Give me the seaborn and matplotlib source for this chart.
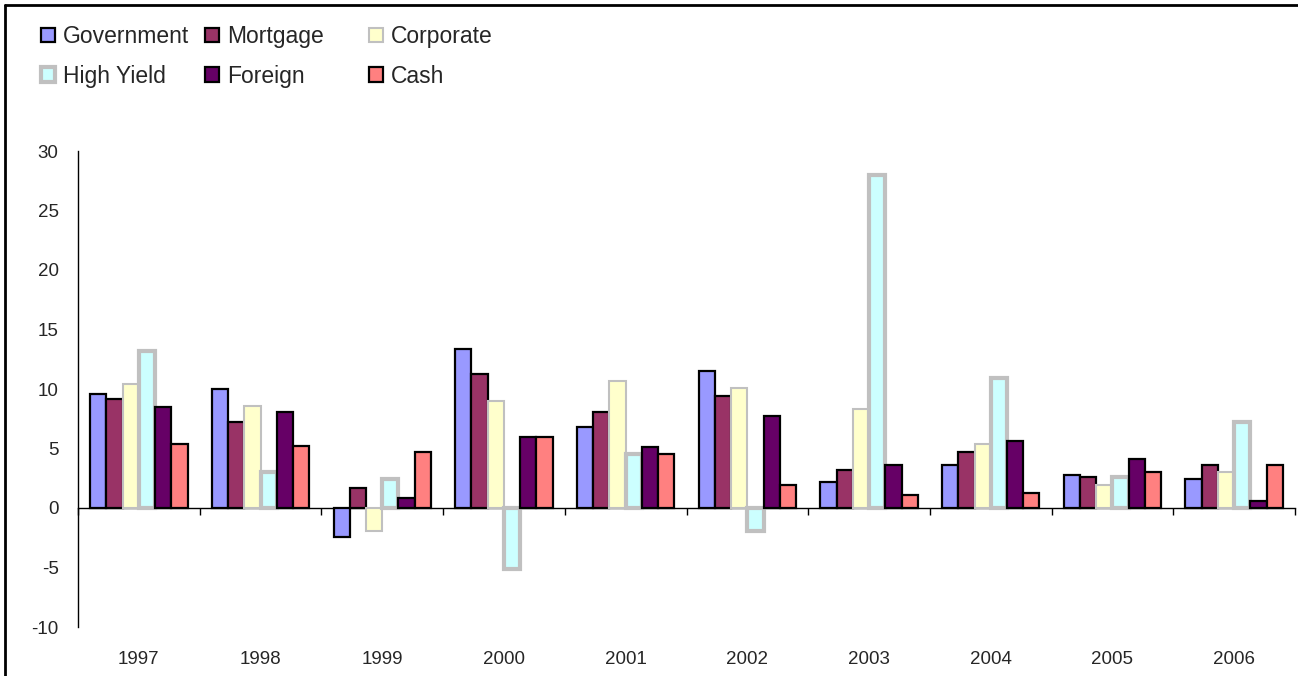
import pandas as pd
import seaborn as sns
import matplotlib.pyplot as plt
from matplotlib.patches import Patch
from matplotlib.lines import Line2D

years = ['1997', '1998', '1999', '2000', '2001', '2002', '2003', '2004', '2005', '2006']
assets = ['Government', 'Mortgage', 'Corporate', 'High Yield', 'Foreign', 'Cash']

government = [9.6, 10.0, -2.4, 13.4, 6.8, 11.5, 2.2, 3.6, 2.8, 2.4]
mortgage = [9.2, 7.2, 1.7, 11.3, 8.1, 9.4, 3.2, 4.7, 2.6, 3.6]
corporate = [10.4, 8.6, -1.9, 9.0, 10.7, 10.1, 8.3, 5.4, 1.9, 3.0]
high_yield = [13.2, 3.0, 2.4, -5.1, 4.5, -1.9, 28.0, 10.9, 2.6, 7.2]
foreign = [8.5, 8.1, 0.8, 6.0, 5.1, 7.7, 3.6, 5.6, 4.1, 0.6]
cash = [5.4, 5.2, 4.7, 6.0, 4.5, 1.9, 1.1, 1.3, 3.0, 3.6]

colors = ['#9999FF', '#993366', '#FFFFCC', '#CCFFFF', '#660066', '#FF8080']
edges = ['black', 'black', '#C0C0C0', '#C0C0C0', 'black', 'black']
widths = [1.6, 1.6, 1.5, 3.0, 1.6, 1.6]

values = [government, mortgage, corporate, high_yield, foreign, cash]
rows = []
for name, vals in zip(assets, values):
    for y, v in zip(years, vals):
        rows.append({'Year': y, 'Asset': name, 'Return': v})
df = pd.DataFrame(rows)

sns.set_style('white')
plt.rcParams['font.family'] = ['Liberation Sans', 'DejaVu Sans']
plt.rcParams['axes.unicode_minus'] = False

W, H = 1298, 676
fig = plt.figure(figsize=(W / 100, H / 100), dpi=100)
ax = fig.add_axes([78 / W, (H - 627) / H, (1295 - 78) / W, (627 - 151) / H])

sns.barplot(data=df, x='Year', y='Return', hue='Asset', order=years, hue_order=assets,
            palette=colors, saturation=1, errorbar=None, width=0.8, legend=False, ax=ax)

for cont, ec, lw in zip(ax.containers, edges, widths):
    for bar in cont:
        bar.set_edgecolor(ec)
        bar.set_linewidth(lw)

ax.set_xlim(-0.5, len(years) - 0.5)
ax.set_ylim(-10, 30)
ax.set_yticks(range(-10, 31, 5))
ax.set_xlabel('')
ax.set_ylabel('')
for s in ['top', 'right', 'bottom']:
    ax.spines[s].set_visible(False)
ax.spines['left'].set_color('black')
ax.spines['left'].set_linewidth(1)
ax.tick_params(axis='y', direction='out', length=5, width=1, color='black', labelsize=13.5, pad=9)
ax.tick_params(axis='x', length=0, labelsize=13.5, pad=17)

# zero line with ticks between the year groups
zero = ax.secondary_xaxis(0.25)
zero.set_xticks([i + 0.5 for i in range(-1, len(years))])
zero.set_xticklabels([])
zero.tick_params(direction='out', length=5, width=1, color='black')
zero.spines['bottom'].set_color('black')
zero.spines['bottom'].set_linewidth(1)

# legend, three fixed columns
handles = [Patch(facecolor=c, edgecolor=e, linewidth=w) for c, e, w in zip(colors, edges, widths)]
col_x = [41, 205, 369]
for i, x in enumerate(col_x):
    fig.legend([handles[i], handles[i + 3]], [assets[i], assets[i + 3]],
               loc='upper left', bbox_to_anchor=(x / W, 1 - 25 / H), frameon=False,
               fontsize=16.5, handlelength=0.6, handleheight=0.6, handletextpad=0.35,
               labelspacing=0.73, borderpad=0, borderaxespad=0)

# outer chart frame (left and top edges)
fig.add_artist(Line2D([5 / W, 5 / W], [0, 1 - 5 / H], color='black', linewidth=2))
fig.add_artist(Line2D([5 / W, 1], [1 - 5 / H, 1 - 5 / H], color='black', linewidth=2))

fig.savefig('out.png', dpi=100)
